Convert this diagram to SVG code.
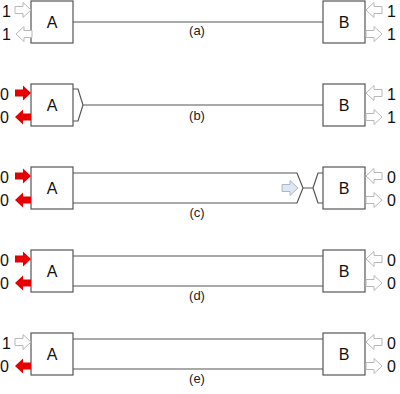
<svg xmlns="http://www.w3.org/2000/svg" width="400" height="394" viewBox="0 0 400 394">
<style>
.box{fill:#fff;stroke:#555;stroke-width:1.2}
.ln{fill:none;stroke:#555;stroke-width:1.2}
.t{font-family:"Liberation Sans",Arial,sans-serif;font-size:16px;fill:#111}
.lbl{font-family:"Liberation Sans",Arial,sans-serif;font-size:13px;fill:#222;text-anchor:middle}
.wa{fill:#fff;stroke:#b8b8b8;stroke-width:1}
.ra{fill:#e60000;stroke:none}
.ba{fill:#dde7f3;stroke:#aab8cc;stroke-width:1}
</style>
<defs>
<path id="ar" d="M-16,-3.5 L-8,-3.5 L-8,-7.5 L0,0 L-8,7.5 L-8,3.5 L-16,3.5 Z"/>
</defs>
<g id="connectors">
<path class="ln" d="M73,22 H323"/>
<path class="ln" d="M73,89 H78 L83,105 L78,121 H73 M83,105 H323"/>
<path class="ln" d="M73,173 H297 L303,188 L297,203 H73 M303,188 H313 M323,173 H318 L313,188 L318,203 H323"/>
<path class="ln" d="M73,256 H323 M73,286 H323"/>
<path class="ln" d="M73,339 H323 M73,369 H323"/>
</g>
<g id="panel-a">
<rect class="box" x="31" y="1" width="42" height="42"/>
<text class="t" x="52" y="28" text-anchor="middle">A</text>
<rect class="box" x="323" y="1" width="42" height="42"/>
<text class="t" x="344" y="28" text-anchor="middle">B</text>
<use href="#ar" class="wa" transform="translate(31,10)"/>
<use href="#ar" class="wa" transform="translate(16,34) rotate(180)"/>
<use href="#ar" class="wa" transform="translate(366,10) rotate(180)"/>
<use href="#ar" class="wa" transform="translate(382,34)"/>
<text class="t" x="2" y="17">1</text><text class="t" x="2" y="40">1</text>
<text class="t" x="387" y="17">1</text><text class="t" x="387" y="40">1</text>
<text class="lbl" x="197" y="35">(a)</text>
</g>
<g id="panel-b">
<rect class="box" x="31" y="84" width="42" height="42"/>
<text class="t" x="52" y="111" text-anchor="middle">A</text>
<rect class="box" x="323" y="84" width="42" height="42"/>
<text class="t" x="344" y="111" text-anchor="middle">B</text>
<use href="#ar" class="ra" transform="translate(31,93)"/>
<use href="#ar" class="ra" transform="translate(15,117) rotate(180)"/>
<use href="#ar" class="wa" transform="translate(366,93) rotate(180)"/>
<use href="#ar" class="wa" transform="translate(382,117)"/>
<text class="t" x="0" y="100">0</text><text class="t" x="0" y="123">0</text>
<text class="t" x="387" y="100">1</text><text class="t" x="387" y="123">1</text>
<text class="lbl" x="197" y="120">(b)</text>
</g>
<g id="panel-c">
<rect class="box" x="31" y="167" width="42" height="42"/>
<text class="t" x="52" y="194" text-anchor="middle">A</text>
<rect class="box" x="323" y="167" width="42" height="42"/>
<text class="t" x="344" y="194" text-anchor="middle">B</text>
<use href="#ar" class="ra" transform="translate(31,176)"/>
<use href="#ar" class="ra" transform="translate(15,200) rotate(180)"/>
<use href="#ar" class="wa" transform="translate(366,176) rotate(180)"/>
<use href="#ar" class="wa" transform="translate(382,200)"/>
<use href="#ar" class="ba" transform="translate(298,188)"/>
<text class="t" x="0" y="183">0</text><text class="t" x="0" y="206">0</text>
<text class="t" x="387" y="183">0</text><text class="t" x="387" y="206">0</text>
<text class="lbl" x="197" y="217">(c)</text>
</g>
<g id="panel-d">
<rect class="box" x="31" y="250" width="42" height="42"/>
<text class="t" x="52" y="277" text-anchor="middle">A</text>
<rect class="box" x="323" y="250" width="42" height="42"/>
<text class="t" x="344" y="277" text-anchor="middle">B</text>
<use href="#ar" class="ra" transform="translate(31,259)"/>
<use href="#ar" class="ra" transform="translate(15,283) rotate(180)"/>
<use href="#ar" class="wa" transform="translate(366,259) rotate(180)"/>
<use href="#ar" class="wa" transform="translate(382,283)"/>
<text class="t" x="0" y="266">0</text><text class="t" x="0" y="289">0</text>
<text class="t" x="387" y="266">0</text><text class="t" x="387" y="289">0</text>
<text class="lbl" x="197" y="300">(d)</text>
</g>
<g id="panel-e">
<rect class="box" x="31" y="333" width="42" height="42"/>
<text class="t" x="52" y="360" text-anchor="middle">A</text>
<rect class="box" x="323" y="333" width="42" height="42"/>
<text class="t" x="344" y="360" text-anchor="middle">B</text>
<use href="#ar" class="wa" transform="translate(31,342)"/>
<use href="#ar" class="ra" transform="translate(15,366) rotate(180)"/>
<use href="#ar" class="wa" transform="translate(366,342) rotate(180)"/>
<use href="#ar" class="wa" transform="translate(382,366)"/>
<text class="t" x="2" y="349">1</text><text class="t" x="0" y="372">0</text>
<text class="t" x="387" y="349">0</text><text class="t" x="387" y="372">0</text>
<text class="lbl" x="197" y="383">(e)</text>
</g>
</svg>
